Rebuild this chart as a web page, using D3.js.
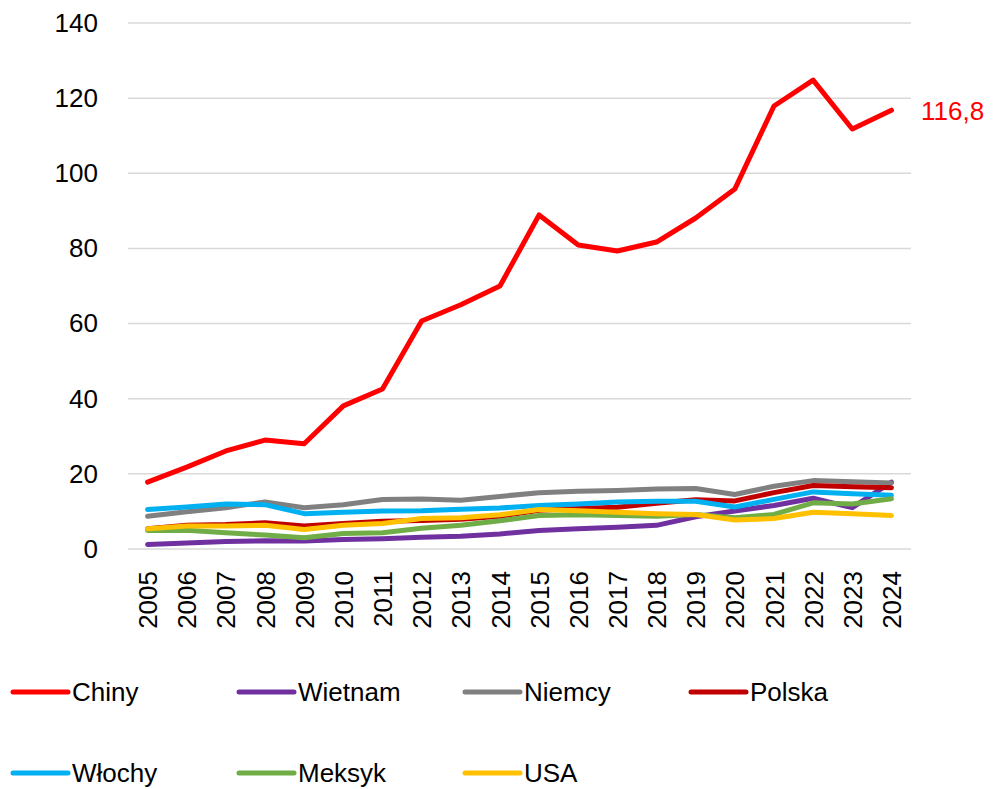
<!DOCTYPE html>
<html>
<head>
<meta charset="utf-8">
<script src="https://cdn.jsdelivr.net/npm/d3@7"></script>
<style>
  body { margin: 0; background: #fff; }
  svg { display: block; font-family: "Liberation Sans", Arial, sans-serif; }
</style>
</head>
<body>
<svg id="chart" width="997" height="789"></svg>
<script>
const years = ["2005", "2006", "2007", "2008", "2009", "2010", "2011", "2012", "2013", "2014",
  "2015", "2016", "2017", "2018", "2019", "2020", "2021", "2022", "2023", "2024"];

const chiny = [17.8, 21.8, 26.1, 29.0, 28.0, 38.1, 42.6, 60.7, 65.0, 70.0,
  88.9, 80.9, 79.3, 81.7, 88.1, 95.8, 117.9, 124.8, 111.8, 116.8];
const wietnam = [1.2, 1.6, 2.0, 2.2, 2.1, 2.5, 2.7, 3.1, 3.4, 4.0,
  4.9, 5.4, 5.8, 6.3, 8.6, 10.1, 11.6, 13.5, 11.0, 17.8];
const niemcy = [8.7, 9.9, 11.0, 12.5, 11.0, 11.8, 13.2, 13.3, 13.0, 14.0,
  15.0, 15.4, 15.6, 16.0, 16.1, 14.5, 16.7, 18.2, 17.9, 17.6];
const polska = [5.4, 6.3, 6.5, 7.0, 6.1, 6.8, 7.4, 7.6, 7.9, 8.7,
  10.3, 10.8, 11.1, 12.2, 13.1, 12.8, 15.0, 16.9, 16.6, 16.3];
const wlochy = [10.5, 11.2, 12.0, 11.8, 9.4, 9.8, 10.1, 10.2, 10.6, 10.9,
  11.6, 12.0, 12.5, 12.7, 12.7, 11.2, 13.2, 15.2, 14.7, 14.3];
const meksyk = [4.9, 5.0, 4.3, 3.7, 3.0, 4.1, 4.3, 5.5, 6.3, 7.5,
  8.9, 9.1, 8.9, 8.7, 9.2, 8.3, 9.2, 12.3, 12.0, 13.4];
const usa = [5.4, 6.1, 6.1, 6.3, 5.2, 6.3, 6.8, 8.1, 8.3, 9.1,
  10.5, 10.2, 9.8, 9.4, 9.2, 7.7, 8.1, 9.8, 9.4, 8.9];

const yTicks = [0, 20, 40, 60, 80, 100, 120, 140];

const series = [
  { name: "Chiny", values: chiny, color: "#ff0000" },
  { name: "Wietnam", values: wietnam, color: "#7030a0" },
  { name: "Niemcy", values: niemcy, color: "#808080" },
  { name: "Polska", values: polska, color: "#c00000" },
  { name: "Włochy", values: wlochy, color: "#00b0f0" },
  { name: "Meksyk", values: meksyk, color: "#70ad47" },
  { name: "USA", values: usa, color: "#ffc000" }
];

const svg = d3.select("#chart");
const plot = { left: 128, right: 911, top: 23, bottom: 549 };

const x = d3.scalePoint().domain(years).range([plot.left, plot.right]).padding(0.5);
const y = d3.scaleLinear().domain([0, 140]).range([plot.bottom, plot.top]);

// gridlines
svg.append("g")
  .selectAll("line")
  .data(yTicks)
  .join("line")
  .attr("x1", plot.left)
  .attr("x2", plot.right)
  .attr("y1", (d) => y(d))
  .attr("y2", (d) => y(d))
  .attr("stroke", "#d9d9d9")
  .attr("stroke-width", 1.5);

// y axis labels
const yAxis = svg.append("g")
  .attr("transform", `translate(${plot.left},0)`)
  .call(d3.axisLeft(y).tickValues(yTicks).tickSize(0).tickPadding(30));
yAxis.select(".domain").remove();
yAxis.selectAll("text")
  .attr("font-size", 26)
  .attr("font-family", "'Liberation Sans', Arial, sans-serif")
  .attr("fill", "#000");

// x axis labels, rotated
const xAxis = svg.append("g")
  .attr("transform", `translate(0,${plot.bottom})`)
  .call(d3.axisBottom(x).tickSize(0).tickPadding(0));
xAxis.select(".domain").remove();
xAxis.selectAll("text")
  .attr("font-size", 26)
  .attr("font-family", "'Liberation Sans', Arial, sans-serif")
  .attr("fill", "#000")
  .attr("transform", "rotate(-90)")
  .attr("text-anchor", "end")
  .attr("dy", "0.35em")
  .attr("x", -22)
  .attr("y", 0);

const line = d3.line()
  .x((d, i) => x(years[i]))
  .y((d) => y(d));

svg.append("g")
  .selectAll("path")
  .data(series)
  .join("path")
  .attr("d", (s) => line(s.values))
  .attr("fill", "none")
  .attr("stroke", (s) => s.color)
  .attr("stroke-width", 5)
  .attr("stroke-linejoin", "round")
  .attr("stroke-linecap", "round");

// end label for Chiny
svg.append("text")
  .attr("x", 921)
  .attr("y", y(chiny[chiny.length - 1]))
  .attr("dy", "0.36em")
  .attr("font-size", 26)
  .attr("fill", "#ff0000")
  .text(String(chiny[chiny.length - 1]).replace(".", ","));

// legend
const legend = svg.append("g");
const legendItems = legend.selectAll("g")
  .data(series)
  .join("g")
  .attr("transform", (s, i) => `translate(${13 + (i % 4) * 226},${i < 4 ? 692 : 773})`);

legendItems.append("line")
  .attr("x1", 0)
  .attr("x2", 55)
  .attr("stroke", (s) => s.color)
  .attr("stroke-width", 5)
  .attr("stroke-linecap", "round");

legendItems.append("text")
  .attr("x", 59)
  .attr("dy", "0.36em")
  .attr("font-size", 26)
  .attr("fill", "#000")
  .text((s) => s.name);
</script>
</body>
</html>
